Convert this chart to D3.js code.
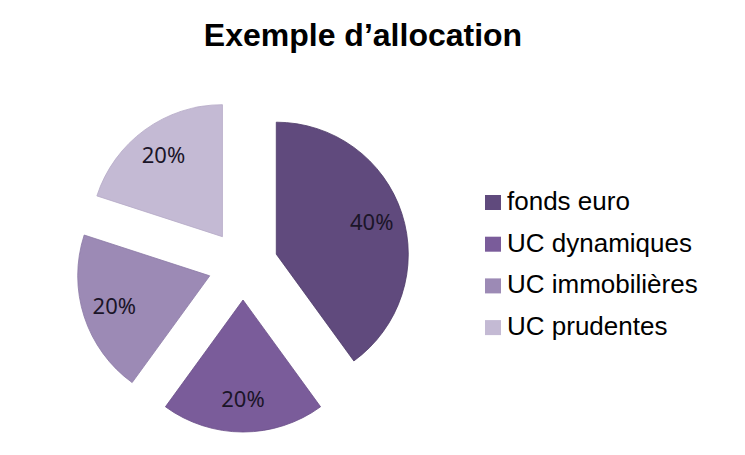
<!DOCTYPE html>
<html><head><meta charset="utf-8">
<script src="https://cdn.jsdelivr.net/npm/d3@7"></script>
<style>body{margin:0;background:#fff}</style>
</head><body>
<svg id="c" width="745" height="455"></svg>
<script>
const categories = ["fonds euro", "UC dynamiques", "UC immobilières", "UC prudentes"];
const values = [40, 20, 20, 20];
const labels = ["40%", "20%", "20%", "20%"];
const colors = ["#604a7d", "#7a5c9a", "#9c8ab5", "#c4bad4"];
const strokes = ["#4e3b68", "#6a4e88", "#8c7aa6", "#b5aac6"];

const svg = d3.select("#c");
svg.append("text").attr("x", 363).attr("y", 46).attr("text-anchor", "middle")
  .attr("font-family", "Liberation Sans, Arial, sans-serif").attr("font-weight", "bold")
  .attr("font-size", 32).attr("fill", "#000").text("Exemple d’allocation");

const cx = 243, cy = 265, r = 132, explode = 35;
const pie = d3.pie().sort(null).value(d => d)(values);
const arc = d3.arc().innerRadius(0).outerRadius(r);
const g = svg.append("g").attr("transform", `translate(${cx},${cy})`);
pie.forEach((p, i) => {
  const mid = (p.startAngle + p.endAngle) / 2;
  const ox = explode * Math.sin(mid), oy = -explode * Math.cos(mid);
  const sg = g.append("g").attr("transform", `translate(${ox},${oy})`);
  sg.append("path").attr("d", arc(p)).attr("fill", colors[i]).attr("stroke", strokes[i]).attr("stroke-width", 0.8);
  const lr = r * 0.76;
  sg.append("text").attr("x", lr * Math.sin(mid)).attr("y", -lr * Math.cos(mid) + 7)
    .attr("text-anchor", "middle")
    .attr("font-family", "Noto Sans, sans-serif").attr("font-size", 22)
    .attr("fill", "#1b1528").text(labels[i]);
});

const lg = svg.append("g");
categories.forEach((c, i) => {
  const y = 210 + i * 41.7;
  lg.append("rect").attr("x", 485).attr("y", y - 15).attr("width", 16).attr("height", 15).attr("fill", colors[i]);
  lg.append("text").attr("x", 507).attr("y", y).attr("font-family", "Liberation Sans, Arial, sans-serif")
    .attr("font-size", 26).attr("fill", "#000").text(c);
});
</script>
</body></html>
